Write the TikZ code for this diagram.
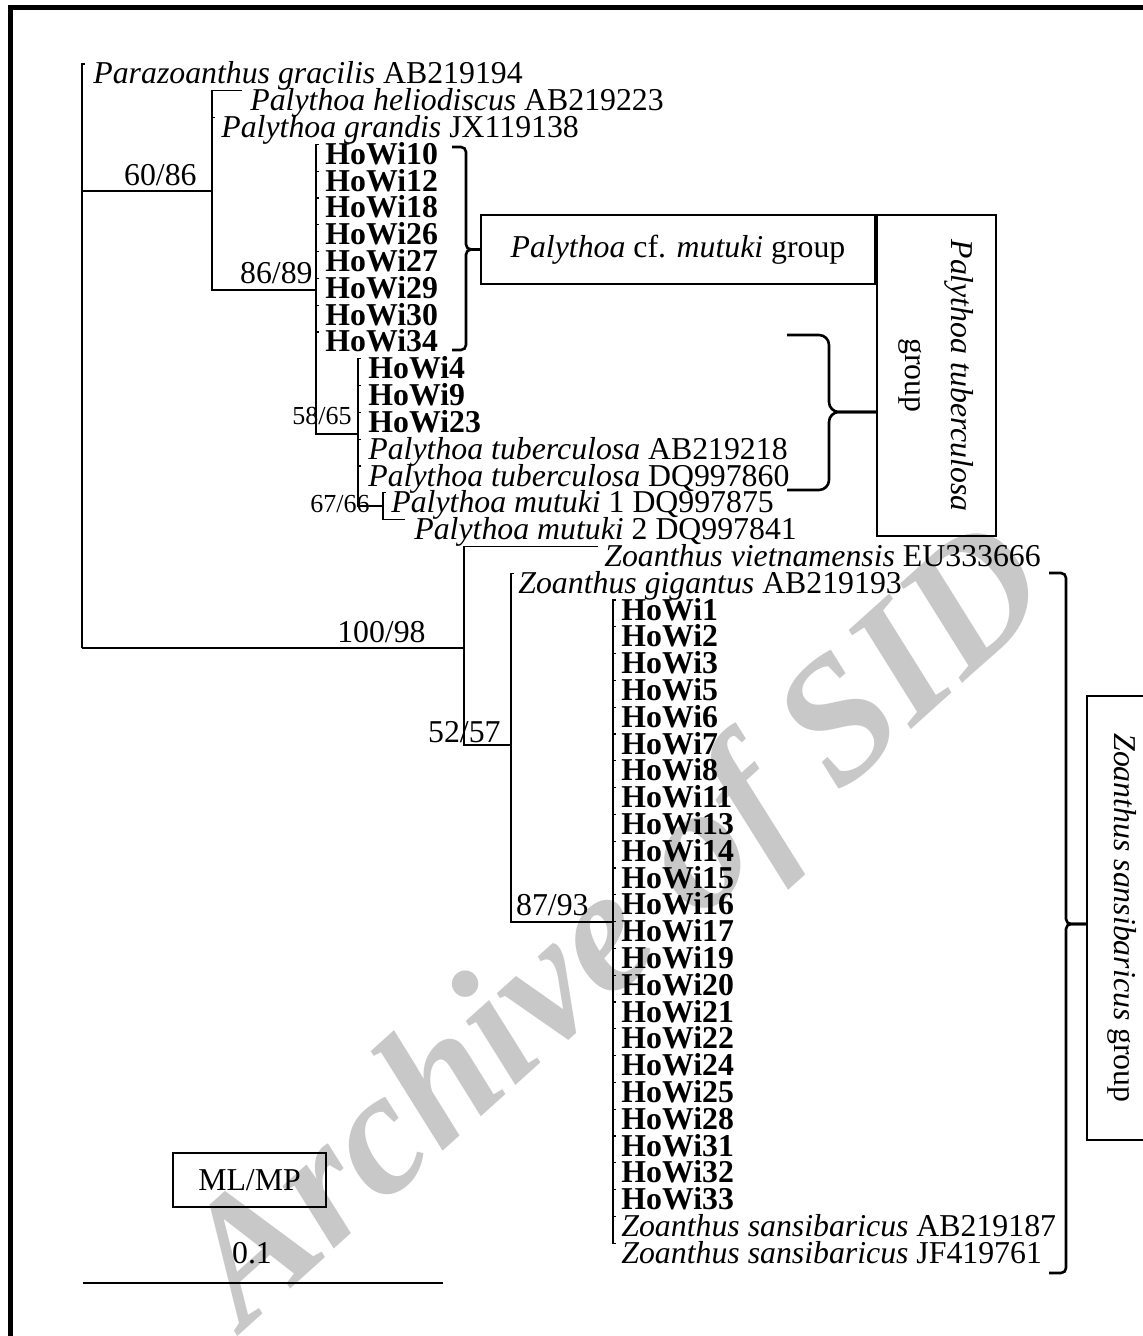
\documentclass[tikz,border=0pt]{standalone}
\usepackage{fontspec}
\setmainfont{Liberation Serif}
\usepackage{tikz}
\usetikzlibrary{positioning}
\definecolor{wmgray}{RGB}{200,200,200}

\begin{document}
\begin{tikzpicture}[x=0.5pt, y=-0.5pt,
    every node/.style={inner sep=0pt, font=\fontsize{15.9}{16}\selectfont},
    branch/.style={line width=0.55pt},
    taxon/.style={anchor=base west},
    isolate/.style={anchor=base west, font=\fontsize{15.9}{16}\selectfont\bfseries},
    support/.style={anchor=base east},
    smallsupport/.style={anchor=base east, font=\fontsize{13}{13}\selectfont},
    bracket/.style={line width=1.3pt, rounded corners=2.5pt},
    groupbox/.style={draw, line width=1pt}]
  \useasboundingbox (0,0) rectangle (1143,1336);
  % watermark
  \node[text=wmgray, rotate=42, font=\fontsize{88}{88}\selectfont\bfseries\itshape] (wm) at (622,932) {Archive of SID};
  % frame
  \draw[line width=2.5pt] (10.5,1400) -- (10.5,7.5) -- (1200,7.5);

  % internal nodes and single tips
  \coordinate (root) at (82,648);
  \coordinate (tPara) at (85,64);
  \coordinate (n6086) at (212,191);
  \coordinate (tHelio) at (242,90.8);
  \coordinate (tGrand) at (215,117.6);
  \coordinate (n8689) at (316,290);
  \coordinate (n5865) at (358,434);
  \coordinate (tTubA) at (361,439.2);
  \coordinate (tTubB) at (361,466);
  \coordinate (n6766) at (383,506);
  \coordinate (tMutA) at (386,492.8);
  \coordinate (tMutB) at (405,519.6);
  \coordinate (nZoan) at (464,648);
  \coordinate (tViet) at (598,546.4);
  \coordinate (n5257) at (511,745);
  \coordinate (tGig) at (514,573.2);
  \coordinate (n8793) at (613,922);
  \coordinate (tSanA) at (616,1216.4);
  \coordinate (tSanB) at (616,1243.2);

  \draw[branch] (root) |- (tPara);
  \draw[branch] (root) |- (n6086);
  \draw[branch] (root) -- (nZoan);
  \draw[branch] (n6086) |- (tHelio);
  \draw[branch] (n6086) |- (tGrand);
  \draw[branch] (n6086) |- (n8689);
  \draw[branch] (n8689) |- (n5865);
  \draw[branch] (n5865) |- (tTubA);
  \draw[branch] (n5865) |- (tTubB);
  \draw[branch] (n5865) |- (n6766);
  \draw[branch] (n6766) |- (tMutA);
  \draw[branch] (n6766) |- (tMutB);
  \draw[branch] (nZoan) |- (tViet);
  \draw[branch] (nZoan) |- (n5257);
  \draw[branch] (n5257) |- (tGig);
  \draw[branch] (n5257) |- (n8793);
  \draw[branch] (n8793) |- (tSanA);
  \draw[branch] (n8793) |- (tSanB);

  % Palythoa cf. mutuki isolates
  \foreach \id [count=\k from 3] in {10,12,18,26,27,29,30,34} {
    \coordinate (t\id) at (319,{64+26.8*\k});
    \draw[branch] (n8689) |- (t\id);
    \node[isolate] (l\id) at (325,{84+26.8*\k}) {HoWi\id};
  }
  % Palythoa tuberculosa isolates
  \foreach \id [count=\k from 11] in {4,9,23} {
    \coordinate (t\id) at (361,{64+26.8*\k});
    \draw[branch] (n5865) |- (t\id);
    \node[isolate] (l\id) at (368,{84+26.8*\k}) {HoWi\id};
  }
  % Zoanthus sansibaricus isolates
  \foreach \id [count=\k from 20] in {1,2,3,5,6,7,8,11,13,14,15,16,17,19,20,21,22,24,25,28,31,32,33} {
    \coordinate (t\id) at (616,{64+26.8*\k});
    \draw[branch] (n8793) |- (t\id);
    \node[isolate] (l\id) at (621,{84+26.8*\k}) {HoWi\id};
  }

  % reference sequences
  \node[taxon] (lPara) at (93,84) {\textit{Parazoanthus gracilis} AB219194};
  \node[taxon] (lHelio) at (250,110.8) {\textit{Palythoa heliodiscus} AB219223};
  \node[taxon] (lGrand) at (221,137.6) {\textit{Palythoa grandis} JX119138};
  \node[taxon] (lTubA) at (368,459.2) {\textit{Palythoa tuberculosa} AB219218};
  \node[taxon] (lTubB) at (368,486) {\textit{Palythoa tuberculosa} DQ997860};
  \node[taxon] (lMutA) at (391,512.8) {\textit{Palythoa mutuki} 1 DQ997875};
  \node[taxon] (lMutB) at (414,539.6) {\textit{Palythoa mutuki} 2 DQ997841};
  \node[taxon] (lViet) at (604,566.4) {\textit{Zoanthus vietnamensis} EU333666};
  \node[taxon] (lGig) at (518,593.2) {\textit{Zoanthus gigantus} AB219193};
  \node[taxon] (lSanA) at (621,1236.4) {\textit{Zoanthus sansibaricus} AB219187};
  \node[taxon] (lSanB) at (621,1263.2) {\textit{Zoanthus sansibaricus} JF419761};

  % bootstrap values ML/MP
  \node[support] (s6086) at (197,186) {60/86};
  \node[support] (s8689) at (313,284) {86/89};
  \node[smallsupport] (s5865) at (352,424) {58/65};
  \node[smallsupport] (s6766) at (370,512) {67/66};
  \node[support] (s10098) at (426,642) {100/98};
  \node[support] (s5257) at (501,742) {52/57};
  \node[support] (s8793) at (589,915) {87/93};

  % group boxes
  \node[groupbox, minimum width=197pt, minimum height=34.5pt] (mutbox) at (678,249.5)
    {\textit{Palythoa} cf. \textit{mutuki} group};
  \node[groupbox, rotate=-90, minimum width=160.5pt, minimum height=59.5pt, align=center,
    font=\fontsize{15.9}{23}\selectfont] (tubbox) at (936.5,375.5)
    {\textit{Palythoa tuberculosa}\\group};
  \node[groupbox, rotate=-90, minimum width=222pt, minimum height=35.5pt] (zoabox) at (1122.5,918)
    {\textit{Zoanthus sansibaricus} group};

  % brackets
  \draw[bracket] (452,147) -- (466,147) |- (mutbox.west);
  \draw[bracket] (452,350) -- (466,350) |- (mutbox.west);
  \draw[bracket, rounded corners=5pt] (787,335) -- (829,335) |- (tubbox.south |- 0,412);
  \draw[bracket, rounded corners=5pt] (787,490) -- (829,490) |- (tubbox.south |- 0,412);
  \draw[bracket] (1049,573) -- (1066,573) |- (zoabox.south |- 0,924);
  \draw[bracket] (1049,1273) -- (1066,1273) |- (zoabox.south |- 0,924);

  % legend and scale
  \node[groupbox, minimum width=76.5pt, minimum height=27pt] (mlmp) at (249.5,1180) {ML/MP};
  \node (sclab) at (252,1253) {0.1};
  \coordinate (sbL) at (83,1283);
  \coordinate (sbR) at (443,1283);
  \draw[branch] (sbL) -- (sbR);
\end{tikzpicture}
\end{document}
